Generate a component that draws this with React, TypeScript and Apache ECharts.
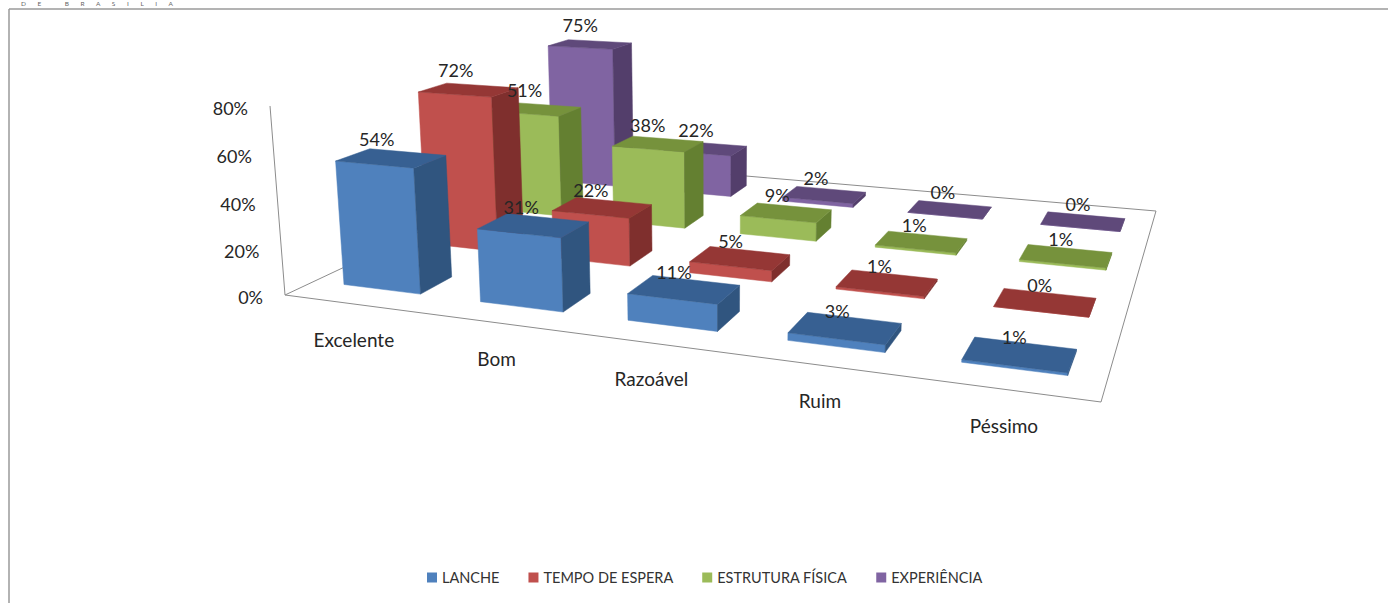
import React, { useEffect, useRef } from "react";
import * as echarts from "echarts";

const categories = ["Excelente", "Bom", "Razoável", "Ruim", "Péssimo"];
const lanche = [0.54, 0.31, 0.11, 0.03, 0.01];
const tempoDeEspera = [0.72, 0.22, 0.05, 0.01, 0];
const estruturaFisica = [0.51, 0.38, 0.09, 0.01, 0.01];
const experiencia = [0.75, 0.22, 0.02, 0, 0];
const valueTicks = [0, 0.2, 0.4, 0.6, 0.8];

const depthSeries = [
  { name: "LANCHE", values: lanche, front: "#4F81BD", top: "#376092", side: "#30557F" },
  { name: "TEMPO DE ESPERA", values: tempoDeEspera, front: "#C0504D", top: "#953735", side: "#7F2F2D" },
  { name: "ESTRUTURA FÍSICA", values: estruturaFisica, front: "#9BBB59", top: "#76923C", side: "#648031" },
  { name: "EXPERIÊNCIA", values: experiencia, front: "#8064A2", top: "#5F497A", side: "#533E6B" },
];

const FONT = "Lato, 'Noto Sans', sans-serif";
const TEXT = "#262626";
const LINE = "#8c8c8c";
const BAR_U = 0.114;
const BAR_V = 0.095;
const BAR_SHIFT = 0.002;

// Floor corners on the page: front-left, front-right, back-right, back-left
const FLOOR = [[285, 295], [1101, 402], [1156, 211], [570, 161]];

// Square-to-quadrilateral homography for the floor plane
const [[x0, y0], [x1, y1], [x2, y2], [x3, y3]] = FLOOR;
const sx = x0 - x1 + x2 - x3;
const sy = y0 - y1 + y2 - y3;
const dx1 = x1 - x2, dx2 = x3 - x2, dy1 = y1 - y2, dy2 = y3 - y2;
const den = dx1 * dy2 - dx2 * dy1;
const g = (sx * dy2 - dx2 * sy) / den;
const h = (dx1 * sy - sx * dy1) / den;
const a = x1 - x0 + g * x1, b = x3 - x0 + h * x3;
const d = y1 - y0 + g * y1, e = y3 - y0 + h * y3;

// z = 1 at the top of the value axis
function camera(u: number, v: number, z: number): [number, number] {
  const w = 1 + g * u + h * v - 0.0338 * z;
  return [(x0 + a * u + b * v - 24.1 * z) / w, (y0 + d * u + e * v - 192.6 * z) / w];
}

// The bars of the original drift a little to the left towards the back-left corner
function project(u: number, v: number, z: number): [number, number] {
  const p = camera(u, v, z);
  return [p[0] - 7 * v * (1 - u) * (1 - u), p[1]];
}

function normal(api: any, params: any, cat: number, val: number) {
  const c = api.coord([cat, val]);
  const cs = params.coordSys;
  return { u: (c[0] - cs.x) / cs.width, z: (cs.y + cs.height - c[1]) / cs.height };
}

function barRenderer(di: number) {
  const s = depthSeries[di];
  return (params: any, api: any) => {
    const { u, z } = normal(api, params, api.value(0), api.value(1));
    const v = (di + 0.5) / depthSeries.length;
    const u0 = u + BAR_SHIFT - BAR_U / 2, u1 = u + BAR_SHIFT + BAR_U / 2;
    const v0 = v - BAR_V / 2, v1 = v + BAR_V / 2;
    const fbl = project(u0, v0, 0), fbr = project(u1, v0, 0), bbr = project(u1, v1, 0);
    const ftl = project(u0, v0, z), ftr = project(u1, v0, z), btr = project(u1, v1, z), btl = project(u0, v1, z);
    const poly = (points: number[][], fill: string) => ({
      type: "polygon",
      shape: { points },
      style: { fill, stroke: fill, lineWidth: 0.5 },
    });
    const center = camera(u, v, z);
    return {
      type: "group",
      children: [
        poly([fbl, fbr, ftr, ftl], s.front),
        poly([fbr, bbr, btr, ftr], s.side),
        poly([ftl, ftr, btr, btl], s.top),
        {
          type: "text",
          x: center[0] - 15 + 12.5 * u,
          y: center[1] - 17 - 3 * z,
          z2: 100,
          style: {
            text: Math.round(api.value(1) * 100) + "%",
            fill: TEXT,
            font: "18px " + FONT,
            textAlign: "center",
            textVerticalAlign: "middle",
            align: "center",
            verticalAlign: "middle",
          },
        },
      ],
    };
  };
}

function floorRenderer() {
  const corners = [[0, 0], [1, 0], [1, 1], [0, 1]].map(([u, v]) => camera(u, v, 0));
  return {
    type: "group",
    children: [
      {
        type: "polyline",
        shape: { points: [corners[0], corners[1], corners[2], corners[3], corners[0]] },
        style: { fill: "none", stroke: LINE, lineWidth: 1 },
      },
      {
        type: "line",
        shape: {
          x1: corners[0][0], y1: corners[0][1],
          x2: camera(0, 0, 1)[0], y2: camera(0, 0, 1)[1],
        },
        style: { stroke: LINE, lineWidth: 1 },
      },
    ],
  };
}

function tickRenderer(params: any, api: any) {
  const { z } = normal(api, params, 0, api.value(1));
  const p = camera(0, 0, z);
  return {
    type: "text",
    x: p[0] - 22,
    y: p[1] + 2,
    style: {
      text: Math.round(api.value(1) * 100) + "%",
      fill: TEXT,
      font: "18px " + FONT,
      textAlign: "right",
      textVerticalAlign: "middle",
      align: "right",
      verticalAlign: "middle",
    },
  };
}

function categoryRenderer(params: any, api: any) {
  const { u } = normal(api, params, api.value(0), 0);
  const p = camera(u, 0, 0);
  return {
    type: "text",
    x: p[0] + 1.5,
    y: p[1] + 36,
    style: {
      text: categories[api.value(0)],
      fill: TEXT,
      font: "19px " + FONT,
      textAlign: "center",
      textVerticalAlign: "middle",
      align: "center",
      verticalAlign: "middle",
    },
  };
}

const nb = (n: number) => "\u00A0".repeat(n);
const HEADER = ["D", "E", "", "B", "R", "A", "S", "I", "L", "I", "A"].join(nb(7));

export default function App() {
  const ref = useRef<HTMLDivElement>(null);
  useEffect(() => {
    const chart = echarts.init(ref.current!, undefined, { renderer: "svg" });
    const back = [...depthSeries.keys()].reverse();
    chart.setOption({
      animation: false,
      backgroundColor: "#ffffff",
      grid: { left: 0, right: 0, top: 0, bottom: 0 },
      xAxis: { type: "category", data: categories, show: false },
      yAxis: { type: "value", min: 0, max: 0.8, interval: 0.2, show: false },
      legend: {
        data: depthSeries.map((s) => s.name),
        left: 427,
        top: 570,
        padding: 0,
        icon: "rect",
        itemWidth: 10,
        itemHeight: 10,
        itemGap: 29,
        selectedMode: false,
        textStyle: { fontFamily: FONT, fontSize: 14.5, color: "#333333" },
      },
      graphic: [
        {
          type: "line",
          shape: { x1: 9, y1: 9, x2: 1388, y2: 9 },
          style: { stroke: "#9a9a9a", lineWidth: 1.5 },
        },
        {
          type: "line",
          shape: { x1: 9, y1: 9, x2: 9, y2: 603 },
          style: { stroke: "#9a9a9a", lineWidth: 1.5 },
        },
        {
          type: "text",
          x: 21,
          y: 0,
          style: { text: HEADER, fill: "#666666", font: "6.5px " + FONT },
        },
      ],
      series: [
        {
          type: "custom",
          name: "floor",
          data: [[0, 0]],
          silent: true,
          renderItem: floorRenderer,
        },
        {
          type: "custom",
          name: "ticks",
          data: valueTicks.map((t) => [0, t]),
          silent: true,
          renderItem: tickRenderer,
        },
        {
          type: "custom",
          name: "categories",
          data: categories.map((_, i) => [i, 0]),
          silent: true,
          renderItem: categoryRenderer,
        },
        ...back.map((di) => ({
          type: "custom",
          name: depthSeries[di].name,
          itemStyle: { color: depthSeries[di].front },
          data: depthSeries[di].values.map((val, i) => [i, val]),
          silent: true,
          renderItem: barRenderer(di),
        })),
      ],
    });
    return () => chart.dispose();
  }, []);
  return (
    <div
      ref={ref}
      style={{ position: "fixed", left: 0, top: 0, width: 1388, height: 603, background: "#fff" }}
    />
  );
}
